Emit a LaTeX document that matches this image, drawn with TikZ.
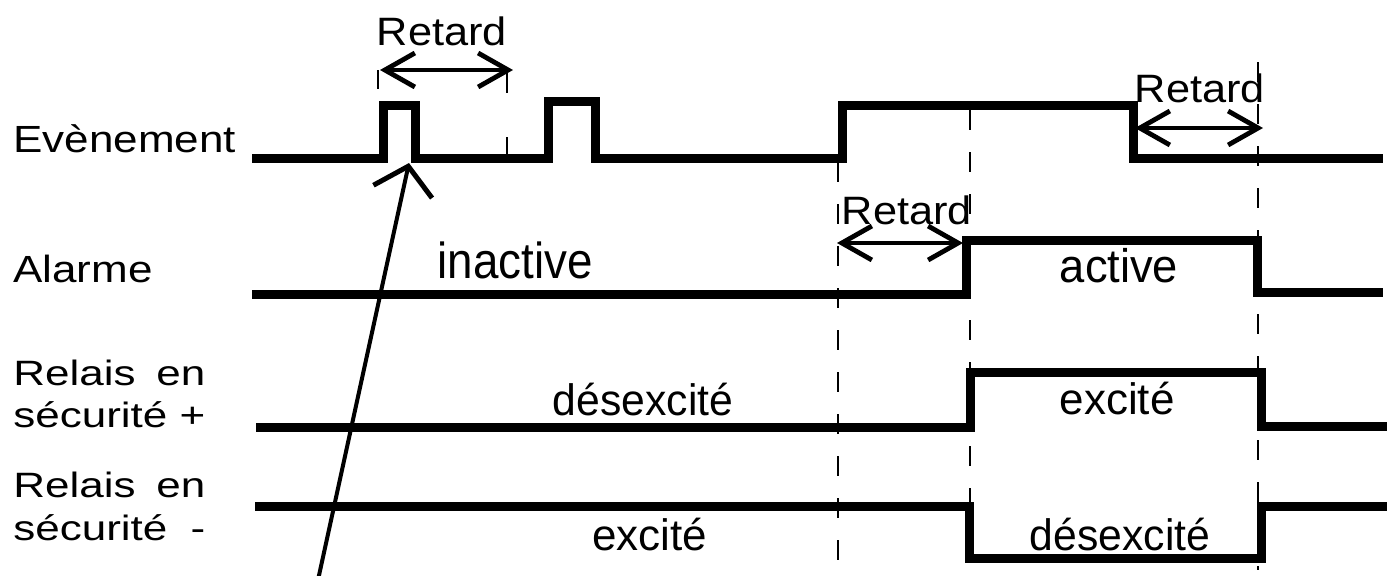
\documentclass[tikz,border=0pt]{standalone}
\usepackage{fontspec}
\setmainfont{Liberation Sans}
\usepackage{graphicx}
\usetikzlibrary{arrows.meta}
\tikzset{
  sig/.style={line width=4.5pt, line join=miter, line cap=butt},
  guide/.style={line width=1.4pt, dash pattern=on 10pt off 11pt},
  ticks/.style={line width=1.4pt},
  barb/.tip={Straight Barb[length=15pt,width=17pt,line width=2.4pt]},
  dim/.style={line width=2pt, barb-barb},
  pointer/.style={line width=2pt, -{Straight Barb[length=13pt,width=30pt,line width=2.5pt]}},
  lbl/.style={anchor=base west, inner sep=0pt, font=\fontsize{22pt}{26pt}\selectfont},
  val/.style={anchor=base, inner sep=0pt, font=\fontsize{22pt}{26pt}\selectfont},
}
\begin{document}
\begin{tikzpicture}[x=0.5pt,y=-0.5pt]
\useasboundingbox (0,0) rectangle (1393,575);

% guide lines
\draw[guide, dash pattern=on 11.5pt off 22pt] (507,70) -- (507,160);
\draw[guide] (838,162) -- (838,570);
\draw[guide] (970,110) -- (970,570);
\draw[guide] (1258,62) -- (1258,570);
\draw[ticks] (378,70) -- (378,89);

% signals
\draw[sig] (252,158) -- (383,158) -- (383,105) -- (415,105) -- (415,158)
  -- (548,158) -- (548,101) -- (595,101) -- (595,158) -- (842,158)
  -- (842,105) -- (1133,105) -- (1133,158) -- (1383,158);
\draw[sig] (252,294) -- (966,294) -- (966,240) -- (1257,240) -- (1257,292) -- (1383,292);
\draw[sig] (256,427) -- (970,427) -- (970,372) -- (1261,372) -- (1261,426) -- (1387,426);
\draw[sig] (255,506) -- (969,506) -- (969,558) -- (1261,558) -- (1261,506) -- (1387,506);

% delay arrows
\coordinate (r1a) at (380,70);  \coordinate (r1b) at (513,70);
\coordinate (r2a) at (1135,128); \coordinate (r2b) at (1263,128);
\coordinate (r3a) at (837,243);  \coordinate (r3b) at (963,243);
\draw[dim] (r1a) -- (r1b);
\draw[dim] (r2a) -- (r2b);
\draw[dim] (r3a) -- (r3b);

% pointer
\coordinate (pa) at (318,580);
\coordinate (pb) at (409,163);
\draw[pointer] (pa) -- (pb);

% labels
\node[lbl] (evt) at (13,152) {\scalebox{1}[0.86]{Evènement}};
\node[lbl] (alm) at (13,282) {\scalebox{1}[0.86]{Alarme}};
\node[lbl] (rplus) at (13,385) {\vtop{\baselineskip=21pt
  \hbox{\scalebox{1}[0.8]{\makebox[96pt][s]{Relais en}}}
  \hbox{\scalebox{1}[0.8]{\makebox[96pt][s]{sécurité +}}}}};
\node[lbl] (rminus) at (13,497) {\vtop{\baselineskip=21.5pt
  \hbox{\scalebox{1}[0.8]{\makebox[96pt][s]{Relais en}}}
  \hbox{\scalebox{1}[0.8]{\makebox[96pt][s]{sécurité -}}}}};

\node[val] (ret1) at (442,45) {\scalebox{0.985}[0.9]{Retard}};
\node[val] (ret2) at (1200,102) {\scalebox{0.985}[0.9]{Retard}};
\node[val] (ret3) at (907,224) {\scalebox{0.985}[0.9]{Retard}};

\node[val] (inact) at (515,278) {\scalebox{1.04}[1.15]{inactive}};
\node[val] (act) at (1119,282) {\scalebox{1.03}[1.07]{active}};
\node[val] (desA) at (643,415) {\scalebox{0.97}[1]{désexcité}};
\node[val] (excA) at (650,550) {excité};
\node[val] (excB) at (1117,414) {excité};
\node[val] (desB) at (1120,550) {\scalebox{0.97}[1]{désexcité}};
\end{tikzpicture}
\end{document}
